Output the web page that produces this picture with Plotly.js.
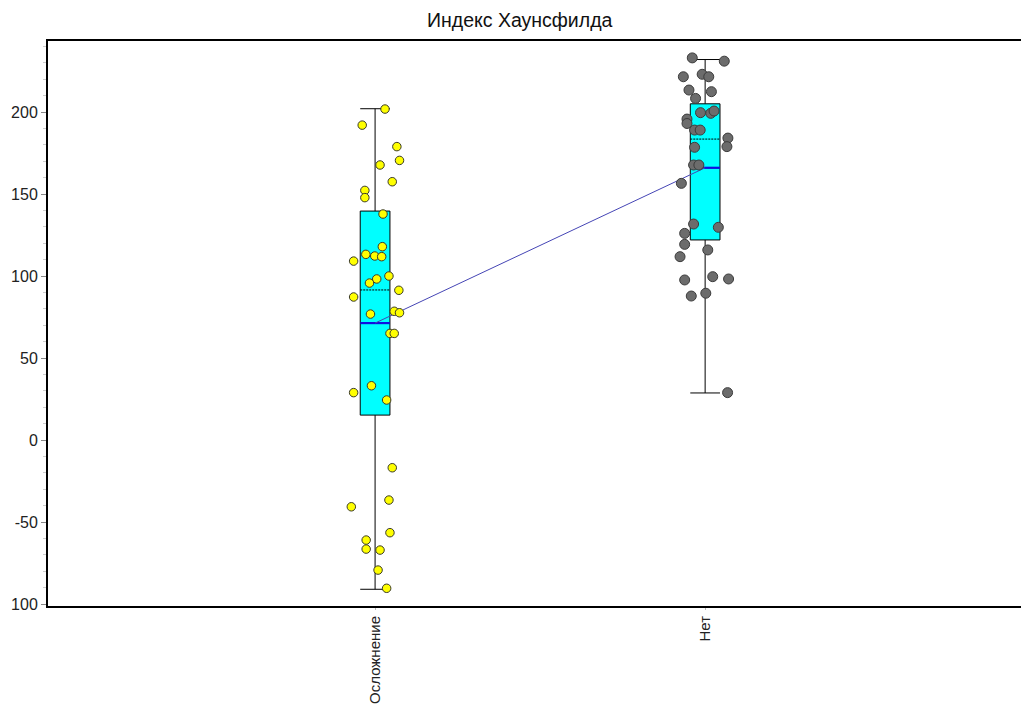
<!DOCTYPE html>
<html>
<head>
<meta charset="utf-8">
<script src="https://cdn.plot.ly/plotly-3.0.1.min.js"></script>
<style>html,body{margin:0;padding:0;background:#fff;}#chart{width:1021px;height:709px;}</style>
</head>
<body>
<div id="chart"></div>
<script>
// ---- data ----
const categories = ["Осложнение", "Нет"];
const titleText = "Индекс Хаунсфилда";

// box statistics per category
const q1 = [15.2, 122];
const medians = [71.3, 166];
const q3 = [139.6, 205];
const means = [91.5, 183.5];
const lowerWhisker = [-91, 28.7];
const upperWhisker = [202, 232];

// individual observations
const valuesComplication = [201.8,192,178.9,170.5,167.7,157.5,152.2,147.8,137.8,117.9,113.2,112.2,111.8,109.1,100,98.2,95.7,87.2,91.3,76.8,78.5,77.6,65,65,33.1,28.9,24.4,-16.9,-40.7,-36.6,-56.5,-61,-66.5,-67.1,-79.3,-90.4];
const jitterComplication = [0.030,-0.039,0.066,0.074,0.015,0.052,-0.031,-0.031,0.024,0.022,-0.028,-0.001,0.020,-0.065,0.042,0.005,-0.017,-0.065,0.072,-0.014,0.058,0.074,0.045,0.058,-0.011,-0.065,0.035,0.052,-0.072,0.042,0.045,-0.027,-0.027,0.015,0.009,0.035];
const valuesNone = [233,231,221.5,223,221.5,213.4,212.4,208.3,199.6,199.2,200.6,195.7,193,189,189,184.1,178.9,178.5,167.7,167.7,156.5,131.7,129.7,126,119.3,115.9,111.8,97.6,99.6,98.2,87.8,89.5,28.9];
const jitterNone = [-0.039,0.058,-0.066,-0.009,0.011,-0.049,0.019,-0.029,-0.014,0.017,0.027,-0.055,-0.055,-0.032,-0.015,0.069,0.066,-0.032,-0.035,-0.019,-0.072,-0.035,0.040,-0.062,-0.062,0.008,-0.076,-0.062,0.023,0.071,-0.042,0.002,0.068];

const yTickVals = [-100, -50, 0, 50, 100, 150, 200];
const yTickText = ["100", "-50", "0", "50", "100", "150", "200"];

// ---- styling ----
const BOX_W = 0.09;
const FONT = "Liberation Sans, Arial, sans-serif";
const idx = categories.map((c, i) => i);

const traces = [];
idx.forEach(i => {
  traces.push({
    type: "box", x: [i], q1: [q1[i]], median: [medians[i]], q3: [q3[i]],
    mean: [means[i]], lowerfence: [lowerWhisker[i]], upperfence: [upperWhisker[i]],
    boxmean: true, width: BOX_W, whiskerwidth: 1,
    fillcolor: "#00FFFF", line: {color: "#000", width: 1},
    boxpoints: false, showlegend: false, hoverinfo: "skip"
  });
});
// blue median bars
idx.forEach(i => {
  traces.push({
    type: "scatter", mode: "lines",
    x: [i - BOX_W / 2, i + BOX_W / 2], y: [medians[i], medians[i]],
    line: {color: "#1010e0", width: 2.2}, showlegend: false, hoverinfo: "skip"
  });
});
// line connecting medians
traces.push({
  type: "scatter", mode: "lines", x: idx, y: medians,
  line: {color: "#4545b5", width: 1}, showlegend: false, hoverinfo: "skip"
});
// points
traces.push({
  type: "scatter", mode: "markers",
  x: valuesComplication.map((v, k) => 0 + jitterComplication[k]), y: valuesComplication,
  marker: {color: "#FFFF00", size: 8.5, line: {color: "#3a3a2a", width: 1}},
  showlegend: false
});
traces.push({
  type: "scatter", mode: "markers",
  x: valuesNone.map((v, k) => 1 + jitterNone[k]), y: valuesNone,
  marker: {color: "#6c6c6c", size: 10, line: {color: "#3c3c3c", width: 1}},
  showlegend: false
});

const layout = {
  width: 1021, height: 709,
  margin: {l: 48, r: 0, t: 41, b: 103},
  paper_bgcolor: "#fff", plot_bgcolor: "#fff",
  font: {family: FONT, size: 16, color: "#222"},
  title: {text: titleText, font: {family: FONT, size: 19.5, color: "#111"},
          x: 0.509, xanchor: "center", y: 0.972, yanchor: "middle", yref: "container"},
  showlegend: false,
  xaxis: {
    range: [-0.991, 1.957], tickmode: "array", tickvals: idx, ticktext: categories,
    tickangle: -90, showgrid: false, zeroline: false,
    showline: true, linecolor: "#000", linewidth: 2, mirror: true,
    ticks: "outside", ticklen: 2, tickcolor: "#bbb",
    tickfont: {family: FONT, size: 15, color: "#222"}
  },
  yaxis: {
    range: [-101.2, 243.3], tickmode: "array", tickvals: yTickVals, ticktext: yTickText,
    showgrid: false, zeroline: false,
    showline: true, linecolor: "#000", linewidth: 2,
    ticks: "outside", ticklen: 5, tickcolor: "#888",
    minor: {dtick: 10, ticks: "outside", ticklen: 3, tickcolor: "#ccc", showgrid: false},
    tickfont: {family: FONT, size: 16, color: "#222"}
  }
};

Plotly.newPlot("chart", traces, layout, {staticPlot: true, displayModeBar: false});
</script>
</body>
</html>
